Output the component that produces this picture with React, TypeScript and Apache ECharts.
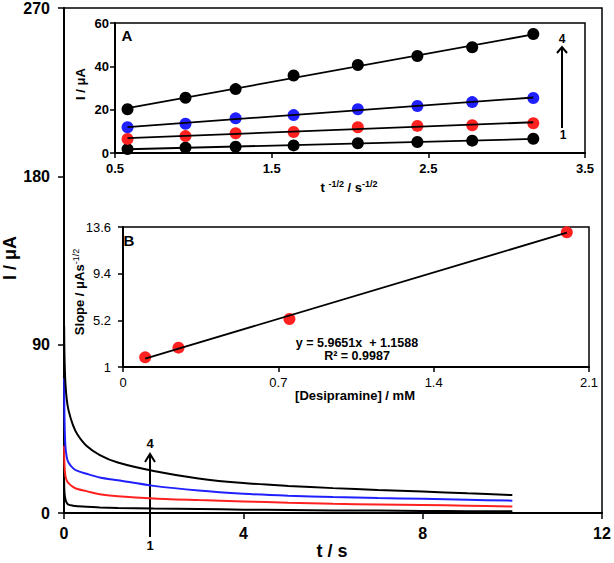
import React, { useEffect, useRef } from 'react';
import * as echarts from 'echarts';

// Main chronoamperograms (t / s vs I / µA)
const mainTime = [0.003, 0.01, 0.03, 0.06, 0.1, 0.2, 0.3, 0.5, 0.8, 1.2, 2, 3, 4, 5, 6, 7, 8, 9, 10];
const curve1 = [17, 11, 7.5, 5.5, 4.5, 3.9, 3.6, 3.4, 3.0, 2.7, 2.4, 2.1, 1.8, 1.6, 1.4, 1.3, 1.1, 1.0, 0.9];
const curve2 = [36, 26, 20, 17.5, 16, 14, 12.8, 11.7, 10, 9, 7.8, 6.9, 6.2, 5.5, 4.9, 4.6, 4.3, 3.9, 3.5];
const curve3 = [72, 52, 36, 30, 27, 24, 22.5, 21, 19, 17.5, 14.5, 12, 10.3, 9.2, 8.5, 8, 7.6, 7.1, 6.6];
const curve4 = [100, 85, 70, 61, 55, 47, 42, 36, 31, 27, 22.5, 18.5, 16, 14.5, 13.3, 12.3, 11.5, 10.5, 9.6];

// Inset A (t^-1/2 vs I)
const insetAX = [0.58, 0.95, 1.27, 1.64, 2.05, 2.43, 2.78, 3.17];
const insetA1 = [1.8, 2.5, 2.9, 3.5, 4.5, 5.1, 5.7, 6.6];
const insetA2 = [6.5, 7.8, 9.1, 9.7, 11.9, 12.5, 12.8, 13.7];
const insetA3 = [11.9, 13.5, 16.0, 17.5, 20.2, 21.7, 23.5, 25.4];
const insetA4 = [20.2, 25.5, 29.5, 35.8, 40.6, 44.8, 48.8, 54.9];

// Inset B (concentration vs slope)
const insetBX = [0.1, 0.25, 0.75, 2.0];
const insetBY = [1.87, 2.74, 5.32, 13.12];
const fitSlope = 5.9651;
const fitIntercept = 1.1588;
const fitR2 = 0.9987;

const mainXTicks = { min: 0, max: 12, interval: 4 };
const mainYTicks = { min: 0, max: 270, interval: 90 };

const FONT = 'Arial, "Liberation Sans", sans-serif';
const RED = '#ff2020';
const BLUE = '#2020ff';

function linFit(xs: number[], ys: number[]) {
  const n = xs.length;
  const mx = xs.reduce((a, b) => a + b, 0) / n;
  const my = ys.reduce((a, b) => a + b, 0) / n;
  let sxy = 0, sxx = 0;
  for (let i = 0; i < n; i++) {
    sxy += (xs[i] - mx) * (ys[i] - my);
    sxx += (xs[i] - mx) * (xs[i] - mx);
  }
  const b = sxy / sxx;
  const a = my - b * mx;
  const x0 = Math.min(...xs), x1 = Math.max(...xs);
  return [[x0, a + b * x0], [x1, a + b * x1]];
}

function axisCommon(extra: any) {
  return {
    axisLine: { show: true, onZero: false, lineStyle: { color: '#000', width: 2 } },
    axisTick: { show: true, inside: false, length: 5, lineStyle: { color: '#000', width: 1.5 } },
    splitLine: { show: false },
    ...extra,
  };
}

export default function App() {
  const ref = useRef<HTMLDivElement>(null);
  useEffect(() => {
    if (!ref.current) return;
    const chart = echarts.init(ref.current, undefined, { renderer: 'svg' });
    const pairs = (xs: number[], ys: number[]) => xs.map((x, i) => [x, ys[i]]);
    const fmt1 = (v: number) => String(Math.round(v * 10) / 10);

    const mainLabel = { color: '#000', fontFamily: FONT, fontWeight: 'bold', fontSize: 16 };
    const aLabel = { color: '#000', fontFamily: FONT, fontWeight: 'bold', fontSize: 13 };
    const bLabel = { color: '#000', fontFamily: FONT, fontSize: 13 };

    const mainCurves = [
      { d: curve1, c: '#000' },
      { d: curve2, c: RED },
      { d: curve3, c: BLUE },
      { d: curve4, c: '#000' },
    ];
    const aSets = [
      { d: insetA1, c: '#000' },
      { d: insetA2, c: RED },
      { d: insetA3, c: BLUE },
      { d: insetA4, c: '#000' },
    ];

    const series: any[] = [];
    mainCurves.forEach((m) => {
      series.push({
        type: 'line', xAxisIndex: 0, yAxisIndex: 0, data: pairs(mainTime, m.d),
        showSymbol: false, smooth: 0.3, lineStyle: { color: m.c, width: 2 }, itemStyle: { color: m.c },
      });
    });
    aSets.forEach((s) => {
      series.push({
        type: 'scatter', xAxisIndex: 1, yAxisIndex: 1, data: pairs(insetAX, s.d),
        symbolSize: 12, itemStyle: { color: s.c, opacity: 1 }, z: 2,
      });
    });
    aSets.forEach((s) => {
      series.push({
        type: 'line', xAxisIndex: 1, yAxisIndex: 1, data: linFit(insetAX, s.d),
        showSymbol: false, lineStyle: { color: '#000', width: 1.8 }, z: 3,
      });
    });
    series.push({
      type: 'scatter', xAxisIndex: 2, yAxisIndex: 2, data: pairs(insetBX, insetBY),
      symbolSize: 12, itemStyle: { color: RED, opacity: 1 }, z: 2,
    });
    const bx0 = Math.min(...insetBX), bx1 = Math.max(...insetBX);
    series.push({
      type: 'line', xAxisIndex: 2, yAxisIndex: 2,
      data: [[bx0, fitSlope * bx0 + fitIntercept], [bx1, fitSlope * bx1 + fitIntercept]],
      showSymbol: false, lineStyle: { color: '#000', width: 1.8 }, z: 3,
    });

    const txt = (x: number, y: number, text: string, font: string, extra: any = {}) => ({
      type: 'text', x, y, ...extra,
      style: { text, font, fill: '#000', align: 'center', verticalAlign: 'middle', ...(extra.style || {}) },
    });

    const arrow = (x: number, yTop: number, yBot: number, hw: number, hd: number) => [
      { type: 'line', shape: { x1: x, y1: yBot, x2: x, y2: yTop + 1 }, style: { stroke: '#000', lineWidth: 2 } },
      { type: 'polyline', shape: { points: [[x - hw, yTop + hd], [x, yTop], [x + hw, yTop + hd]] }, style: { stroke: '#000', lineWidth: 2, fill: null } },
    ];

    const option: any = {
      animation: false,
      backgroundColor: '#fff',
      grid: [
        { left: 64, top: 8, width: 538, height: 505, show: true, borderColor: '#000', borderWidth: 1.5, backgroundColor: '#fff' },
        { left: 115, top: 23, width: 470, height: 130, show: true, borderColor: '#000', borderWidth: 1.5, backgroundColor: '#fff' },
        { left: 123, top: 227, width: 466, height: 140, show: true, borderColor: '#000', borderWidth: 1.5, backgroundColor: '#fff' },
      ],
      xAxis: [
        axisCommon({ type: 'value', gridIndex: 0, ...mainXTicks, axisTick: { show: true, length: 6, lineStyle: { color: '#000', width: 1.5 } }, axisLabel: { ...mainLabel, margin: 12 } }),
        axisCommon({ type: 'value', gridIndex: 1, min: 0.5, max: 3.5, interval: 1, axisLabel: { ...aLabel, margin: 9, formatter: fmt1 } }),
        axisCommon({ type: 'value', gridIndex: 2, min: 0, max: 2.1, interval: 0.7, axisLabel: { ...bLabel, margin: 9, formatter: fmt1 } }),
      ],
      yAxis: [
        axisCommon({ type: 'value', gridIndex: 0, ...mainYTicks, axisTick: { show: true, length: 6, lineStyle: { color: '#000', width: 1.5 } }, axisLabel: { ...mainLabel, margin: 14 } }),
        axisCommon({ type: 'value', gridIndex: 1, min: 0, max: 60, interval: 20, axisLabel: { ...aLabel, margin: 6 } }),
        axisCommon({ type: 'value', gridIndex: 2, min: 1, max: 13.6, interval: 4.2, axisLabel: { ...bLabel, margin: 12, formatter: fmt1 } }),
      ],
      series,
      graphic: [
        txt(10, 258, 'I / μA', `bold 18px ${FONT}`, { rotation: Math.PI / 2 }),
        txt(332, 551, 't / s', `bold 18px ${FONT}`),
        txt(80, 84, 'I / μA', `bold 13px ${FONT}`, { rotation: Math.PI / 2 }),
        {
          type: 'text', x: 349, y: 187,
          style: {
            text: '{b|t }{s|-1/2}{b| / s}{s|-1/2}', align: 'center', verticalAlign: 'middle',
            rich: {
              b: { fontFamily: FONT, fontWeight: 'bold', fontSize: 13, lineHeight: 16, fill: '#000', color: '#000' },
              s: { fontFamily: FONT, fontWeight: 'bold', fontSize: 9, verticalAlign: 'top', lineHeight: 10, fill: '#000', color: '#000' },
            },
          },
        },
        {
          type: 'text', x: 79, y: 292, rotation: Math.PI / 2,
          style: {
            text: '{b|Slope / μAs}{s|-1/2}', align: 'center', verticalAlign: 'middle',
            rich: {
              b: { fontFamily: FONT, fontWeight: 'bold', fontSize: 13, lineHeight: 16, fill: '#000', color: '#000' },
              s: { fontFamily: FONT, fontSize: 9, verticalAlign: 'top', lineHeight: 10, fill: '#000', color: '#000' },
            },
          },
        },
        txt(355, 395, '[Desipramine] / mM', `bold 13px ${FONT}`),
        txt(357, 343, `y = ${fitSlope}x  + ${fitIntercept}`, `bold 12.5px ${FONT}`),
        txt(357, 356, `R² = ${fitR2}`, `bold 12.5px ${FONT}`),
        txt(127, 35, 'A', `bold 15px ${FONT}`),
        txt(129, 240, 'B', `bold 15px ${FONT}`),
        ...arrow(150, 454, 537, 5, 8),
        txt(150, 443, '4', `bold 13px ${FONT}`),
        txt(150, 545, '1', `bold 13px ${FONT}`),
        ...arrow(562, 47, 128, 5, 6),
        txt(562, 39, '4', `bold 12px ${FONT}`),
        txt(563, 135, '1', `bold 12px ${FONT}`),
      ],
    };
    chart.setOption(option);
    return () => chart.dispose();
  }, []);
  return <div ref={ref} style={{ position: 'fixed', left: 0, top: 0, width: 614, height: 563 }} />;
}
